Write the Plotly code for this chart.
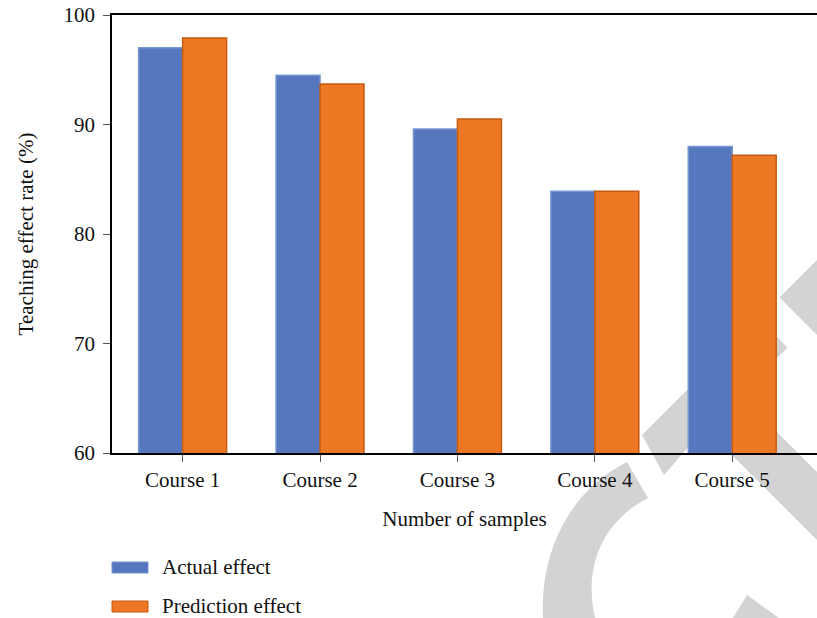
import plotly.graph_objects as go

# Data
courses = ["Course 1", "Course 2", "Course 3", "Course 4", "Course 5"]
actual_effect = [97.0, 94.5, 89.6, 83.9, 88.0]
prediction_effect = [97.9, 93.7, 90.5, 83.9, 87.2]
series_names = ["Actual effect", "Prediction effect"]
y_ticks = [60, 70, 80, 90, 100]

BLUE, BLUE_EDGE = "#5677BE", "#7597D0"
ORANGE, ORANGE_EDGE = "#ED7823", "#C55A11"
WATERMARK = "#D3D3D3"
FONT = "Liberation Serif"
FS = 21

W, H = 817, 618
ML, MR, MT, MB = 112, 0, 15, 165
PW, PH = W - ML - MR, H - MT - MB


def px(x, y):
    """Figure pixel position -> paper coordinates of the plot area."""
    return (x - ML) / PW, (MT + PH - y) / PH


def poly(points):
    parts = []
    for i, (x, y) in enumerate(points):
        u, v = px(x, y)
        parts.append(("M" if i == 0 else "L") + f"{u:.4f},{v:.4f}")
    return " ".join(parts) + " Z"


def pt(x, y):
    u, v = px(x, y)
    return f"{u:.4f},{v:.4f}"


fig = go.Figure()
fig.add_trace(go.Bar(
    x=courses, y=actual_effect, name=series_names[0],
    marker=dict(color=BLUE, line=dict(color=BLUE_EDGE, width=1.5)),
))
fig.add_trace(go.Bar(
    x=courses, y=prediction_effect, name=series_names[1],
    marker=dict(color=ORANGE, line=dict(color=ORANGE_EDGE, width=1.5)),
))

# light grey background logo
arc = ("M" + pt(627, 462) + " C" + pt(572, 489.5) + " " + pt(540, 548) + " " + pt(543, 618)
       + " L" + pt(544, 640) + " L" + pt(597, 640) + " L" + pt(595, 618)
       + " C" + pt(585, 575) + " " + pt(596, 525) + " " + pt(648, 498) + " Z")
logo_paths = [
    arc,
    poly([(642, 435), (664, 475), (690, 445), (787.5, 347.5), (758.5, 318.5)]),
    poly([(779.5, 297.5), (840, 237), (840, 358)]),
    poly([(705, 428), (840, 563), (840, 495), (745, 400)]),
    poly([(747, 595), (719.6, 640), (809.6, 640)]),
]
shapes = [dict(type="path", xref="paper", yref="paper", path=p,
               fillcolor=WATERMARK, line=dict(width=0), layer="below")
          for p in logo_paths]

# legend swatches drawn below the plot
annotations = []
for name, color, edge, cy in [(series_names[0], BLUE, BLUE_EDGE, 567.5),
                              (series_names[1], ORANGE, ORANGE_EDGE, 606.5)]:
    x0, y0 = px(112, cy - 5.5)
    x1, y1 = px(148, cy + 5.5)
    shapes.append(dict(type="rect", xref="paper", yref="paper",
                       x0=x0, x1=x1, y0=y0, y1=y1,
                       fillcolor=color, line=dict(color=edge, width=1)))
    tx, ty = px(160, cy - 1)
    annotations.append(dict(text=name, xref="paper", yref="paper", x=tx, y=ty,
                            xanchor="left", yanchor="middle", showarrow=False,
                            font=dict(family=FONT, size=FS, color="#111")))

fig.update_layout(
    width=W, height=H,
    margin=dict(l=ML, r=MR, t=MT, b=MB, autoexpand=False),
    paper_bgcolor="white", plot_bgcolor="rgba(0,0,0,0)",
    barmode="group", bargap=0.36, bargroupgap=0,
    showlegend=False,
    font=dict(family=FONT, size=FS, color="#111"),
    shapes=shapes, annotations=annotations,
)
fig.update_xaxes(
    type="category", range=[-0.514, 4.617],
    showline=True, linecolor="black", linewidth=1.8, mirror=True,
    ticks="outside", ticklen=7, tickwidth=1.2, tickcolor="#555",
    showgrid=False, zeroline=False,
    tickfont=dict(family=FONT, size=FS),
    title=dict(text="Number of samples", font=dict(family=FONT, size=FS), standoff=20),
)
fig.update_yaxes(
    range=[60, 100], tickvals=y_ticks,
    showline=True, linecolor="black", linewidth=1.8,
    ticks="outside", ticklen=7, tickwidth=1.2, tickcolor="#555",
    ticklabelstandoff=4,
    showgrid=False, zeroline=False,
    tickfont=dict(family=FONT, size=FS),
    title=dict(text="Teaching effect rate (%)", font=dict(family=FONT, size=FS), standoff=24),
)

fig.write_html("out.html")
